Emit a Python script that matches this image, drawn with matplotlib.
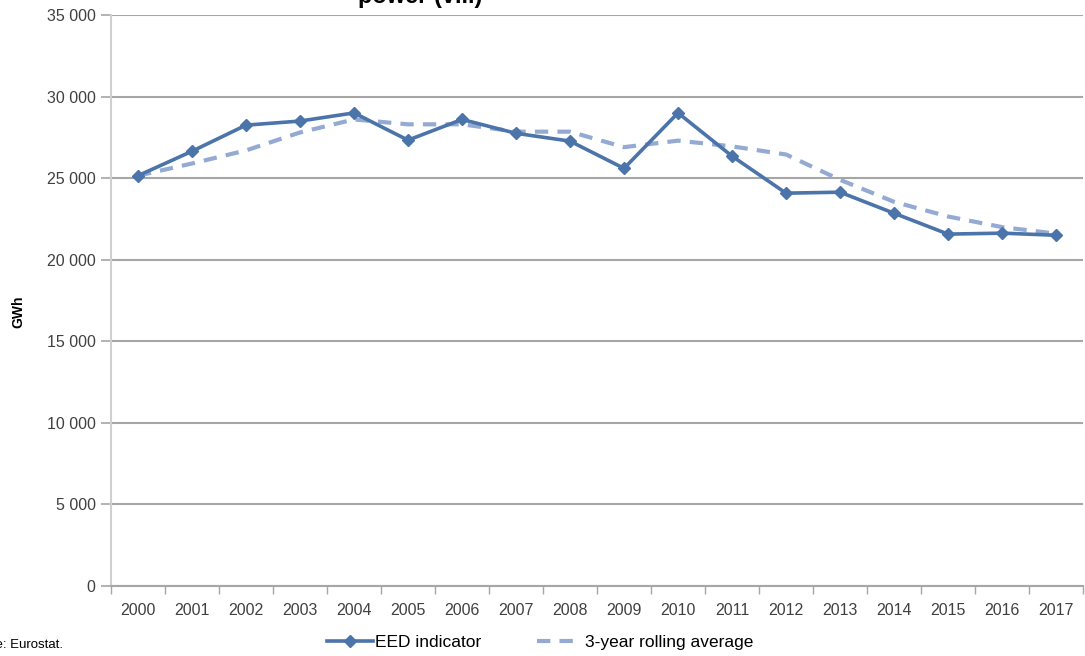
import matplotlib.pyplot as plt
from matplotlib.ticker import FuncFormatter, MultipleLocator

plt.rcParams['font.family'] = ['Liberation Sans Narrow', 'Liberation Sans', 'DejaVu Sans']

years = [str(y) for y in range(2000, 2018)]
eed_indicator = [25150, 26650, 28250, 28500, 29000, 27330, 28600, 27750, 27270, 25600,
                 29000, 26350, 24080, 24140, 22850, 21570, 21630, 21500]
rolling_avg = [25150, 25900, 26700, 27800, 28600, 28300, 28300, 27850, 27850, 26900,
               27300, 26950, 26450, 24900, 23550, 22650, 22000, 21600]

blue = '#4a74aa'
light_blue = '#94aad2'
grid_grey = '#a6a6a6'

fig = plt.figure(figsize=(10.85, 6.56), dpi=100)
ax = fig.add_axes([0.1023, 0.1067, 0.8959, 0.8704])

x = list(range(len(years)))
ax.plot(x, rolling_avg, color=light_blue, lw=3, dashes=(3.2, 2.2), zorder=3,
        label='3-year rolling average')
ax.plot(x, eed_indicator, color=blue, lw=2.6, marker='D', ms=6, zorder=4,
        label='EED indicator')

ax.set_xlim(-0.5, len(years) - 0.5)
ax.set_ylim(0, 35000)
ax.yaxis.set_major_locator(MultipleLocator(5000))
ax.yaxis.set_major_formatter(FuncFormatter(lambda v, p: f'{int(v):,}'.replace(',', ' ')))
ax.set_xticks(x)
ax.set_xticklabels(years)
ax.set_xticks([i - 0.5 for i in range(len(years) + 1)], minor=True)

ax.grid(axis='y', color=grid_grey, lw=1.5, zorder=0)
ax.set_axisbelow(True)
for side in ['top', 'right']:
    ax.spines[side].set_visible(False)
ax.spines['left'].set_color('#d0d0d0')
ax.spines['left'].set_linewidth(1.5)
ax.spines['bottom'].set_color(grid_grey)
ax.spines['bottom'].set_linewidth(1.5)

ax.tick_params(axis='x', which='major', length=0, pad=12, labelsize=11.5, labelcolor='#404040')
ax.tick_params(axis='x', which='minor', length=6, color=grid_grey, width=1)
ax.tick_params(axis='y', length=7, color=grid_grey, width=1.2, pad=4,
               labelsize=11.5, labelcolor='#404040')

fig.text(0.0166, 0.525, 'GWh', rotation=90, ha='center', va='center',
         fontsize=10, fontweight='bold', family=['Liberation Sans', 'DejaVu Sans'])
fig.text(0.387, 1.006, 'power (viii)', ha='center', va='center', fontsize=17,
         fontweight='bold', family=['Liberation Sans', 'DejaVu Sans'])
fig.text(-0.036, 0.017, 'Source: Eurostat.', ha='left', va='center', fontsize=9.5)

handles, labels = ax.get_legend_handles_labels()
fig.legend(handles[::-1], labels[::-1], loc='center', bbox_to_anchor=(0.498, 0.02),
           ncol=2, frameon=False, fontsize=12.5, handlelength=2.6, columnspacing=3.2,
           handletextpad=0.15)

fig.savefig('out.png', dpi=100)
